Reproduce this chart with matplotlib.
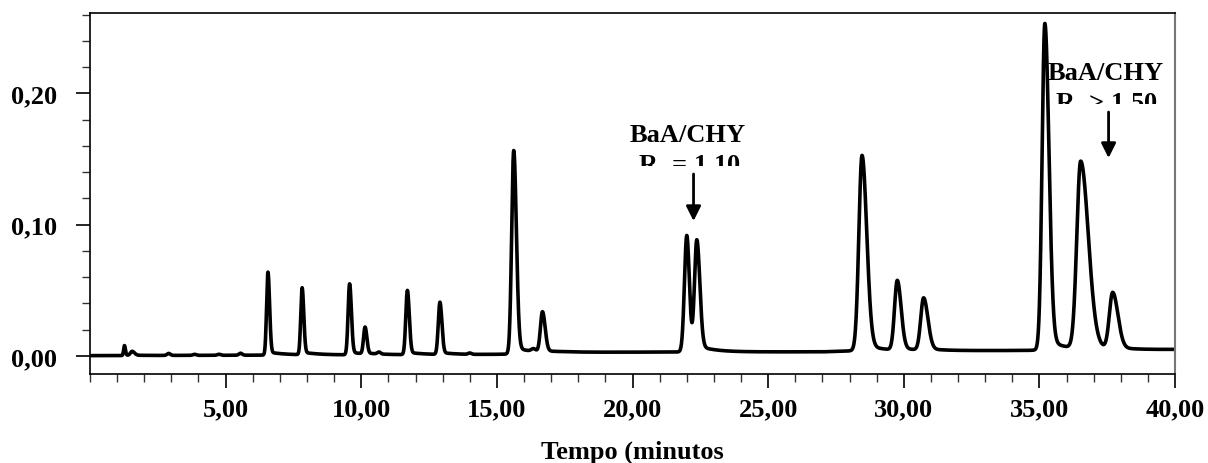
import numpy as np
import matplotlib
matplotlib.use("Agg")
import matplotlib.pyplot as plt
from matplotlib.ticker import MultipleLocator, FixedLocator
from matplotlib.transforms import Bbox, TransformedBbox

plt.rcParams['font.family'] = ['Liberation Serif', 'DejaVu Serif']
plt.rcParams['font.weight'] = 'bold'
plt.rcParams['mathtext.fontset'] = 'custom'
plt.rcParams['mathtext.rm'] = 'Liberation Serif:bold'
plt.rcParams['mathtext.it'] = 'Liberation Serif:bold'
plt.rcParams['mathtext.bf'] = 'Liberation Serif:bold'

# peak table (min, AU)
rt     = [1.27, 1.55, 2.90, 3.85, 4.75, 5.55, 6.56, 7.82, 9.57, 10.14, 10.65,
          11.70, 12.90, 14.00, 15.62, 16.35, 16.68, 22.00, 22.37, 28.46, 29.76,
          30.73, 35.20, 36.52, 37.70]
height = [0.0075, 0.003, 0.0015, 0.0008, 0.0008, 0.0015, 0.062, 0.050, 0.053,
          0.020, 0.0015, 0.048, 0.039, 0.001, 0.152, 0.002, 0.030, 0.087,
          0.082, 0.146, 0.052, 0.039, 0.244, 0.140, 0.042]
sigma  = [0.03, 0.06, 0.06, 0.06, 0.06, 0.06, 0.050, 0.050, 0.055, 0.055, 0.06,
          0.058, 0.060, 0.06, 0.075, 0.08, 0.075, 0.085, 0.085, 0.115, 0.100,
          0.105, 0.100, 0.140, 0.120]
tail   = [1.2, 1.5, 1.0, 1.0, 1.0, 1.0, 1.2, 1.2, 1.2, 1.2, 1.0, 1.2, 1.2, 1.0,
          1.3, 1.0, 1.3, 1.1, 1.3, 1.5, 1.4, 1.5, 1.5, 2.0, 1.6]

# baseline drift
base_t = [0, 1.0, 6, 14, 16, 17.5, 21, 27, 28, 34, 40]
base_y = [0.0003, 0.0003, 0.0006, 0.001, 0.0015, 0.0028, 0.003, 0.0032,
          0.0038, 0.0042, 0.005]

t = np.linspace(0, 40, 8001)
signal = np.interp(t, base_t, base_y)
for r, h, s, k in zip(rt, height, sigma, tail):
    sig = np.where(t < r, s, s * k)
    signal += h * np.exp(-0.5 * ((t - r) / sig) ** 2)
    # small exponential tail
    step = 1 / (1 + np.exp(-(t - r) / s))
    signal += h * 0.04 * np.exp(-np.clip(t - r, 0, None) / 0.6) * step

fig = plt.figure(figsize=(12.08, 4.64), dpi=100)
ax = fig.add_axes([0.0745, 0.1918, 0.8982, 0.7780])
ax.plot(t, signal, color='black', lw=2.6)

ax.set_xlim(0, 40)
ax.set_ylim(-0.0137, 0.2612)

xticks = [5, 10, 15, 20, 25, 30, 35, 40]
xlabels = ['5,00', '10,00', '15,00', '20,00', '25,00', '30,00', '35,00', '40,00']
yticks = [0.0, 0.1, 0.2]
ylabels = ['0,00', '0,10', '0,20']

ax.set_xticks(xticks)
ax.set_xticklabels(xlabels)
ax.set_yticks(yticks)
ax.set_yticklabels(ylabels)
ax.xaxis.set_minor_locator(MultipleLocator(1))
ax.yaxis.set_minor_locator(FixedLocator(np.arange(0, 0.27, 0.02)))

ax.tick_params(axis='both', which='major', direction='out', length=10,
               width=1.2, labelsize=19, colors='black')
ax.tick_params(axis='y', which='major', pad=14)
ax.tick_params(axis='x', which='major', pad=7)
ax.tick_params(axis='both', which='minor', direction='out', length=6,
               width=1.0, color='#333333')
for side in ['left', 'bottom', 'top']:
    ax.spines[side].set_linewidth(1.2)
ax.spines['right'].set_color('#777777')
ax.spines['right'].set_linewidth(1.5)

fig.text(632 / 1208, 5 / 464, 'Tempo (minutos', ha='center', va='baseline',
         fontsize=19, fontweight='bold')

# annotations (second line cut off at its lower part as in the original)
ax.text(22.03, 0.164, 'BaA/CHY', ha='center', va='baseline', fontsize=19)
t1 = ax.text(22.10, 0.1405, r'R$_\mathrm{s}$ = 1,10', ha='center',
             va='baseline', fontsize=19, clip_on=True)
t1.set_clip_box(TransformedBbox(Bbox.from_extents(15, 0.1447, 30, 0.5),
                                ax.transData))
ax.annotate('', xy=(22.25, 0.1028), xytext=(22.25, 0.1386),
            arrowprops=dict(arrowstyle='-|>', lw=2, color='black',
                            mutation_scale=22, shrinkA=0, shrinkB=0))

ax.text(37.46, 0.211, 'BaA/CHY', ha='center', va='baseline', fontsize=19)
t2 = ax.text(37.48, 0.188, r'R$_\mathrm{s}$ > 1,50', ha='center',
             va='baseline', fontsize=19, clip_on=True)
t2.set_clip_box(TransformedBbox(Bbox.from_extents(30, 0.1919, 45, 0.5),
                                ax.transData))
ax.annotate('', xy=(37.55, 0.1508), xytext=(37.55, 0.1858),
            arrowprops=dict(arrowstyle='-|>', lw=2, color='black',
                            mutation_scale=22, shrinkA=0, shrinkB=0))

fig.savefig('out.png', dpi=100)
